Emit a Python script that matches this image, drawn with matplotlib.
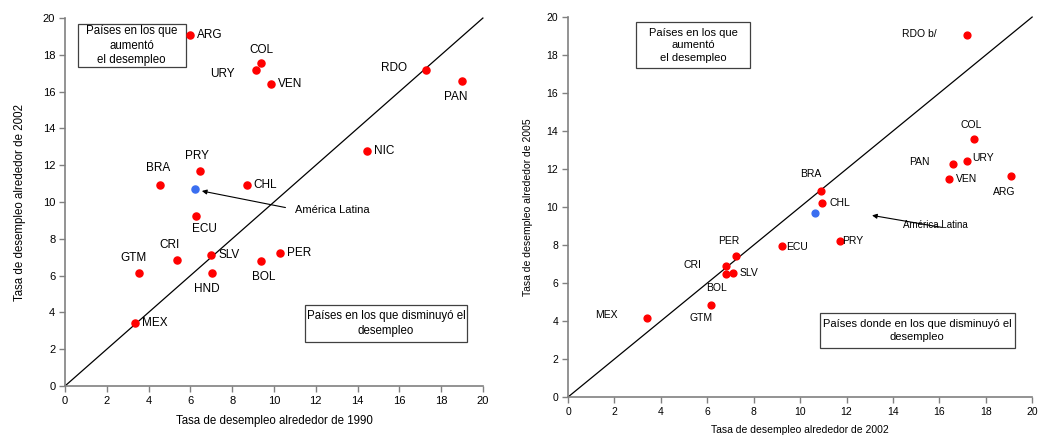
import matplotlib
matplotlib.use("Agg")
import matplotlib.pyplot as plt
from matplotlib.patches import Rectangle

plt.rcParams['font.family'] = ['Liberation Sans', 'DejaVu Sans']

# ---- Data: left chart (1990 vs 2002) ----
left_countries = ["ARG", "COL", "URY", "VEN", "RDO", "PAN", "NIC", "PRY", "BRA", "CHL",
                  "ECU", "CRI", "SLV", "GTM", "HND", "BOL", "PER", "MEX"]
left_x = [6.0, 9.4, 9.15, 9.85, 17.3, 19.0, 14.45, 6.45, 4.55, 8.7,
          6.25, 5.35, 7.0, 3.55, 7.05, 9.4, 10.3, 3.35]
left_y = [19.1, 17.55, 17.2, 16.4, 17.2, 16.6, 12.8, 11.7, 10.9, 10.95,
          9.25, 6.85, 7.1, 6.15, 6.15, 6.8, 7.25, 3.4]
left_al = (6.2, 10.7)

# ---- Data: right chart (2002 vs 2005) ----
right_countries = ["RDO b/", "COL", "URY", "PAN", "VEN", "ARG", "BRA", "CHL", "ECU", "PRY",
                   "PER", "CRI", "SLV", "BOL", "GTM", "MEX"]
right_x = [17.2, 17.5, 17.2, 16.6, 16.4, 19.1, 10.9, 10.95, 9.2, 11.7,
           7.25, 6.8, 7.1, 6.8, 6.15, 3.4]
right_y = [19.05, 13.6, 12.4, 12.25, 11.45, 11.65, 10.85, 10.2, 7.95, 8.2,
           7.4, 6.9, 6.55, 6.45, 4.85, 4.15]
right_al = (10.65, 9.7)

# ---- label offsets (pixels, ha) ----
left_off = {
    "ARG": (7, 0, 'left'), "COL": (0, 13, 'center'), "URY": (-21, -4, 'right'),
    "VEN": (7, 0, 'left'), "RDO": (-19, 2, 'right'), "PAN": (-6, -16, 'center'),
    "NIC": (7, 0, 'left'), "PRY": (-3, 15, 'center'), "BRA": (-2, 17, 'center'),
    "CHL": (7, 0, 'left'), "ECU": (9, -13, 'center'), "CRI": (-7, 15, 'center'),
    "SLV": (7, 0, 'left'), "GTM": (-6, 15, 'center'), "HND": (-5, -16, 'center'),
    "BOL": (2, -16, 'center'), "PER": (7, 0, 'left'), "MEX": (7, 0, 'left'),
}
right_off = {
    "RDO b/": (-31, 1, 'right'), "COL": (-3, 14, 'center'), "URY": (5, 3, 'left'),
    "PAN": (-24, 2, 'right'), "VEN": (7, 0, 'left'), "ARG": (-7, -16, 'center'),
    "BRA": (-10, 17, 'center'), "CHL": (7, 0, 'left'), "ECU": (5, -1, 'left'),
    "PRY": (3, 0, 'left'), "PER": (-8, 15, 'center'), "CRI": (-24, 1, 'right'),
    "SLV": (7, 0, 'left'), "BOL": (-9, -14, 'center'), "GTM": (-10, -13, 'center'),
    "MEX": (-29, 3, 'right'),
}

fig = plt.figure(figsize=(10.5, 4.37), dpi=100)
axL = fig.add_axes([0.0619, 0.1167, 0.398, 0.842])
axR = fig.add_axes([0.541, 0.0915, 0.442, 0.8695])

def style(ax, fs):
    ax.set_xlim(0, 20)
    ax.set_ylim(0, 20)
    ax.set_xticks(range(0, 21, 2))
    ax.set_yticks(range(0, 21, 2))
    for s in ['top', 'right']:
        ax.spines[s].set_visible(False)
    for s in ['left', 'bottom']:
        ax.spines[s].set_color('#808080')
        ax.spines[s].set_linewidth(1.2)
    ax.tick_params(direction='out', length=4, width=1, color='#808080',
                   labelsize=fs, pad=3)
    ax.plot([0, 20], [0, 20], color='black', lw=0.9, clip_on=False, zorder=1)

def box(ax, x0, x1, y0, y1, text, fs, ls):
    ax.add_patch(Rectangle((x0, y0), x1 - x0, y1 - y0, fc='white', ec='#404040',
                           lw=0.9, zorder=2, clip_on=False))
    ax.text((x0 + x1) / 2, (y0 + y1) / 2, text, fontsize=fs, ha='center',
            va='center', linespacing=ls, zorder=3)

style(axL, 8)
style(axR, 7.5)

# Left chart
axL.scatter(left_x, left_y, s=26, color='#ff0000', zorder=3, clip_on=False)
axL.scatter([left_al[0]], [left_al[1]], s=26, color='#3a6ef0', zorder=3)
for c, x, y in zip(left_countries, left_x, left_y):
    dx, dy, ha = left_off[c]
    axL.annotate(c, (x, y), xytext=(dx, dy), textcoords='offset pixels',
                 ha=ha, va='center', fontsize=8.5)
axL.annotate("", xy=(6.55, 10.6), xytext=(10.55, 9.7),
             arrowprops=dict(arrowstyle='-|>', color='black', lw=0.8,
                             mutation_scale=7, shrinkA=0, shrinkB=0))
axL.text(11.0, 9.57, "América Latina", fontsize=8, va='center', ha='left')
box(axL, 0.61, 5.77, 17.34, 19.67, "Países en los que\naumentó\nel desempleo", 8.3, 1.3)
box(axL, 11.47, 19.25, 2.41, 4.39, "Países en los que disminuyó el\ndesempleo", 8.3, 1.3)
axL.set_xlabel("Tasa de desempleo alrededor de 1990", fontsize=8.3, labelpad=7)
axL.set_ylabel("Tasa de desempleo alrededor de 2002", fontsize=8.3, labelpad=12)

# Right chart
axR.scatter(right_x, right_y, s=24, color='#ff0000', zorder=3, clip_on=False)
axR.scatter([right_al[0]], [right_al[1]], s=24, color='#3a6ef0', zorder=3)
for c, x, y in zip(right_countries, right_x, right_y):
    dx, dy, ha = right_off[c]
    axR.annotate(c, (x, y), xytext=(dx, dy), textcoords='offset pixels',
                 ha=ha, va='center', fontsize=7.5)
axR.annotate("", xy=(13.1, 9.56), xytext=(16.1, 8.93),
             arrowprops=dict(arrowstyle='-|>', color='black', lw=0.8,
                             mutation_scale=7, shrinkA=0, shrinkB=0))
axR.text(14.45, 9.03, "América Latina", fontsize=7, va='center', ha='left')
box(axR, 2.93, 7.84, 17.32, 19.72, "Países en los que\naumentó\nel desempleo", 8.0, 1.3)
box(axR, 10.85, 19.24, 2.58, 4.44, "Países donde en los que disminuyó el\ndesempleo", 8.0, 1.3)
axR.set_xlabel("Tasa de desempleo alrededor de 2002", fontsize=7.5, labelpad=6)
axR.set_ylabel("Tasa de desempleo alrededor de 2005", fontsize=7.5, labelpad=10)

fig.savefig("out.png", dpi=100)
